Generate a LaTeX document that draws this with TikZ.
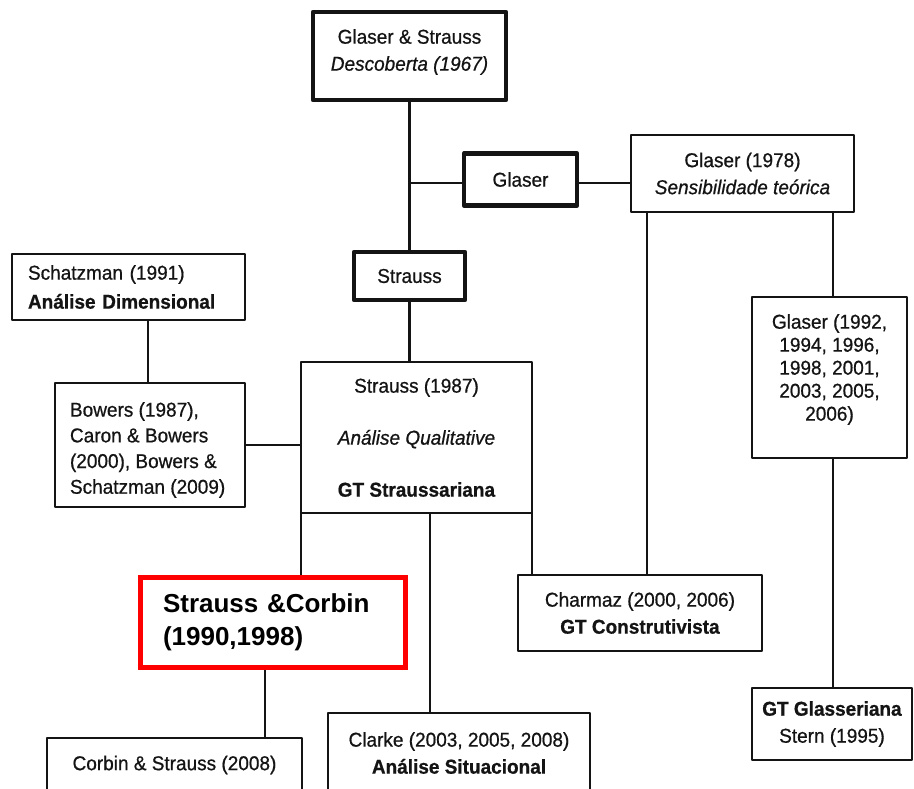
\documentclass[tikz,border=0pt]{standalone}
\usepackage{fontspec}
\setmainfont[FakeStretch=0.95,FakeBold=0.7]{Liberation Sans}
\newfontfamily\plainsans{Liberation Sans}
\usetikzlibrary{backgrounds}
\definecolor{ink}{HTML}{141414}
\definecolor{hl}{HTML}{FF0000}

\tikzset{
  box/.style={draw=ink, line width=2.8pt, fill=white, inner sep=0pt, outer sep=0pt,
              align=center, text=ink, line join=round,
              font=\fontsize{20}{27}\selectfont},
  heavy/.style={box, line width=4.8pt},
  leftbox/.style={box, align=left},
  txt/.style={inner sep=0pt, outer sep=0pt, align=center, text=ink,
              font=\fontsize{20}{27}\selectfont},
  mark box/.style={draw=hl, line width=5pt, fill=white, inner ysep=0pt, outer sep=0pt,
              align=left, text=black,
              font=\plainsans\fontsize{26}{33}\selectfont\bfseries},
  link/.style={draw=ink, line width=2.8pt},
}

\begin{document}
\begin{tikzpicture}[x=1pt,y=-1pt]
\useasboundingbox (0,0) rectangle (914,789);

% --- boxes ---
\node[heavy, minimum width=193pt, minimum height=88pt] (top) at (409.5,56) {};
\node[txt] (top-text) at (409.5,52)
  {Glaser \& Strauss\\\textit{Descoberta (1967)}};

\node[heavy, minimum width=113pt, minimum height=52pt] (glaser) at (520.5,179.5) {Glaser};
\node[box, minimum width=223pt, minimum height=77pt] (g78) at (742.5,173.5)
  {Glaser (1978)\\\textit{Sensibilidade teórica}};
\node[heavy, minimum width=111pt, minimum height=48pt] (strauss) at (409.5,276) {Strauss};

\node[leftbox, inner xsep=16pt, text width=201pt, minimum height=66pt,
      font=\fontsize{20}{29}\selectfont] (schatz) at (128.5,287)
  {Schatzman (1991)\\\textbf{Análise Dimensional}};

\node[box, minimum width=190pt, minimum height=124pt] (bowers) at (150,445) {};
\node[txt, anchor=west, align=left, font=\fontsize{20}{25.7}\selectfont] (bowers-text) at (70,450)
  {Bowers (1987),\\Caron \& Bowers\\(2000), Bowers \&\\Schatzman (2009)};

\node[box, minimum width=231pt, minimum height=151pt,
      font=\fontsize{20}{52}\selectfont] (s87) at (416.5,437.5)
  {Strauss (1987)\\\textit{Análise Qualitative}\\\textbf{GT Straussariana}};

\node[box, minimum width=155pt, minimum height=161pt] (g92) at (829.5,377.5) {};
\node[txt, font=\fontsize{20}{23}\selectfont] (g92-text) at (829.5,369.5)
  {Glaser (1992,\\1994, 1996,\\1998, 2001,\\2003, 2005,\\2006)};

\node[mark box, inner xsep=22.5pt, text width=220pt, minimum height=90pt] (red) at (273,622.5)
  {Strauss \&Corbin\\(1990,1998)};

\node[box, minimum width=244pt, minimum height=76pt] (charmaz) at (640,613)
  {Charmaz (2000, 2006)\\\textbf{GT Construtivista}};

\node[box, minimum width=160pt, minimum height=72pt] (gtg) at (832,724)
  {\textbf{GT Glasseriana}\\Stern (1995)};

\node[box, minimum width=255pt, minimum height=54pt] (cs) at (174.5,765)
  {Corbin \& Strauss (2008)};

\node[box, minimum width=262pt, minimum height=80pt] (clarke) at (459,753)
  {Clarke (2003, 2005, 2008)\\\textbf{Análise Situacional}};

% --- branch positions ---
\coordinate (gy) at (0,183);
\coordinate (xa) at (647,0);
\coordinate (xb) at (833,0);
\coordinate (xc) at (148,0);
\coordinate (xd) at (430,0);
\coordinate (xe) at (265,0);

% --- connectors ---
\begin{scope}[on background layer]
  \fill[white] (0,0) rectangle (914,789);
  \draw[link] (top.south) -- (strauss.north);
  \draw[link] (top.south |- gy) -- (glaser.west |- gy);
  \draw[link] (glaser.east |- gy) -- (g78.west |- gy);
  \draw[link] (strauss.south) -- (strauss.south |- s87.north);
  \draw[link] (g78.south -| xa) -- (charmaz.north -| xa);
  \draw[link] (g78.south -| xb) -- (g92.north -| xb);
  \draw[link] (g92.south -| xb) -- (gtg.north -| xb);
  \draw[link] (schatz.south -| xc) -- (bowers.north -| xc);
  \draw[link] (bowers.east) -- (s87.west |- bowers.east);
  \draw[link] (s87.south west) -- (red.north -| s87.south west);
  \draw[link] (s87.south -| xd) -- (clarke.north -| xd);
  \draw[link] (s87.south east) -- (charmaz.north -| s87.south east);
  \draw[link] (red.south -| xe) -- (cs.north -| xe);
\end{scope}
\end{tikzpicture}
\end{document}
